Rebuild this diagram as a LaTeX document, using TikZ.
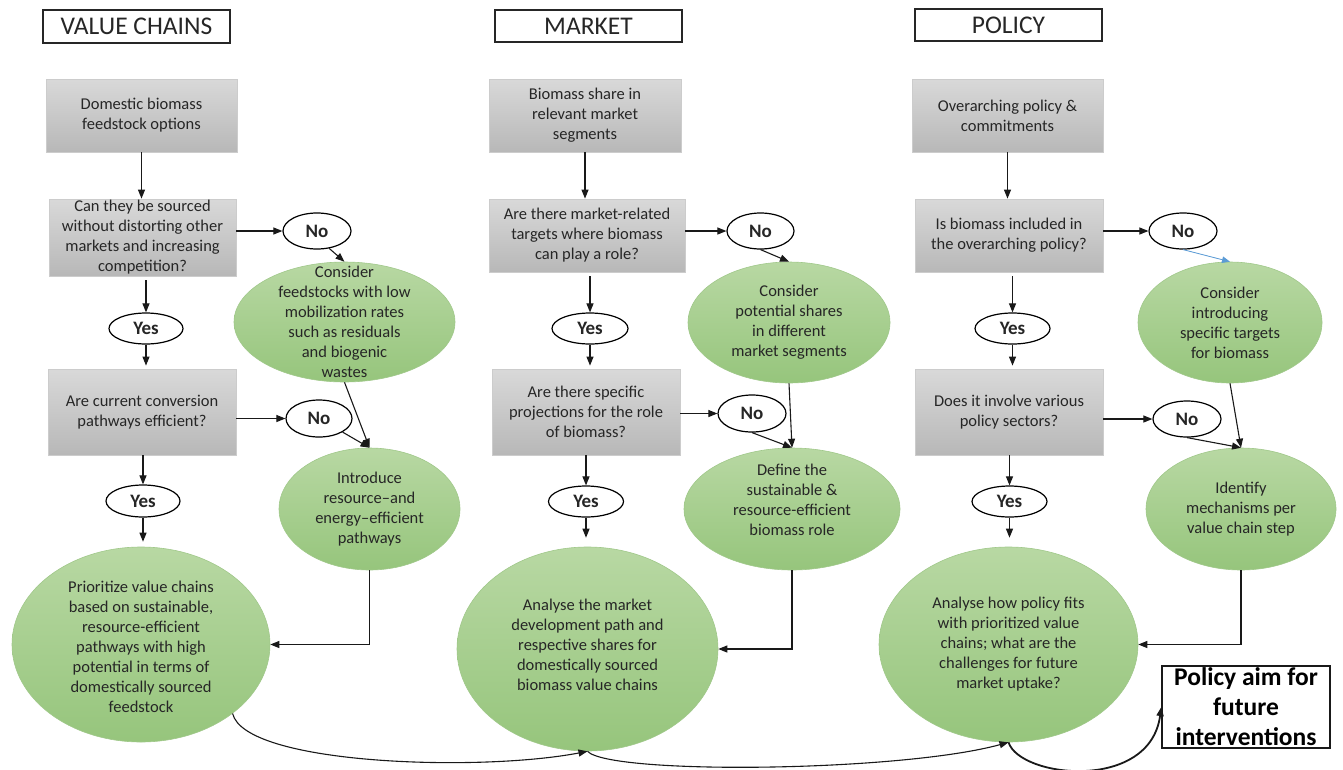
\documentclass[tikz,border=0pt]{standalone}
\usepackage{fontspec}
\setmainfont{Carlito}
\usetikzlibrary{shapes.geometric,arrows.meta}
\definecolor{gtop}{RGB}{184,216,163}
\definecolor{gbot}{RGB}{150,197,124}
\definecolor{gline}{RGB}{160,200,138}
\definecolor{bluearr}{RGB}{91,155,213}
\definecolor{txt}{RGB}{38,38,38}
\tikzset{
  titlebox/.style={draw=black!85,line width=1.5pt,inner sep=0pt,font=\fontsize{25.5}{29}\selectfont,text=txt},
  gbox/.style={rectangle,draw=black!20,line width=0.8pt,top color=black!15,bottom color=black!28,inner sep=0pt,align=center,font=\fontsize{16.5}{20}\selectfont,text=txt},
  gell/.style={ellipse,draw=gline,line width=0.6pt,top color=gtop,bottom color=gbot,inner sep=0pt},
  lbl/.style={align=center,font=\fontsize{16.5}{20}\selectfont,text=txt,inner sep=0pt},
  yn/.style={ellipse,draw=black,line width=1.2pt,fill=white,inner sep=0pt,font=\bfseries\fontsize{19}{22}\selectfont,text=txt},
  arr/.style={-{Triangle[length=9pt,width=7pt]},line width=1.1pt,draw=black!90},
  barr/.style={-{Triangle[length=8pt,width=6.5pt]},line width=0.8pt,draw=bluearr,fill=bluearr},
  aimbox/.style={draw=black!90,line width=1.5pt,inner sep=0pt,align=center,font=\bfseries\fontsize{25.5}{30}\selectfont,text=black}
}
\begin{document}
\begin{tikzpicture}[x=1pt,y=-1pt]
\useasboundingbox (0,0) rectangle (1343,769);
% titles
\node[titlebox,minimum width=187pt,minimum height=33pt] (t1) at (136.5,26.5) {VALUE CHAINS};
\node[titlebox,minimum width=187pt,minimum height=32pt] (t2) at (588.5,26) {MARKET};
\node[titlebox,minimum width=187pt,minimum height=32pt] (t3) at (1008.5,25) {POLICY};
% column 1
\node[gbox,minimum width=191pt,minimum height=73pt] (b1) at (141.5,115.5) {Domestic biomass\\feedstock options};
\node[gbox,minimum width=187pt,minimum height=77pt] (b2) at (142.5,237.5) {Can they be sourced\\without distorting other\\markets and increasing\\competition?};
\node[gbox,minimum width=188pt,minimum height=86pt] (b3) at (142,412) {Are current conversion\\pathways efficient?};
\node[yn,minimum width=68pt,minimum height=36pt] (no1) at (317,231) {No};
\node[gell,minimum width=221pt,minimum height=120pt,label={[lbl]center:{Consider\\feedstocks with low\\mobilization rates\\such as residuals\\and biogenic\\wastes}}] (cf) at (344.5,322) {};
\node[yn,minimum width=74pt,minimum height=31pt] (yes1) at (146,328.5) {Yes};
\node[yn,minimum width=66pt,minimum height=37pt] (no2) at (319,418.5) {No};
\node[gell,minimum width=181pt,minimum height=122pt,label={[lbl]center:{Introduce\\resource--and\\energy--efficient\\pathways}}] (intro) at (369.5,509) {};
\node[yn,minimum width=74pt,minimum height=32pt] (yes2) at (143,501) {Yes};
\node[gell,minimum width=258pt,minimum height=195pt,label={[lbl,yshift=-2pt]center:{Prioritize value chains\\based on sustainable,\\resource-efficient\\pathways with high\\potential in terms of\\domestically sourced\\feedstock}}] (prio) at (141,644.5) {};
% column 2
\node[gbox,minimum width=192pt,minimum height=73pt] (m1) at (585,115.5) {Biomass share in\\relevant market\\segments};
\node[gbox,minimum width=196pt,minimum height=73pt] (m2) at (587,235.5) {Are there market-related\\targets where biomass\\can play a role?};
\node[gbox,minimum width=188pt,minimum height=86pt] (m3) at (586,412) {Are there specific\\projections for the role\\of biomass?};
\node[yn,minimum width=67pt,minimum height=36pt] (nm1) at (760.5,231) {No};
\node[gell,minimum width=202pt,minimum height=121pt,label={[lbl]center:{Consider\\potential shares\\in different\\market segments}}] (cm) at (789,322.5) {};
\node[yn,minimum width=76pt,minimum height=31pt] (ym1) at (590,328.5) {Yes};
\node[yn,minimum width=68pt,minimum height=37pt] (nm2) at (752,413.5) {No};
\node[gell,minimum width=216pt,minimum height=122pt,label={[lbl,yshift=9pt]center:{Define the\\sustainable \&\\resource-efficient\\biomass role}}] (def) at (792,509) {};
\node[yn,minimum width=75pt,minimum height=31pt] (ym2) at (586,501.5) {Yes};
\node[gell,minimum width=261pt,minimum height=204pt,label={[lbl,yshift=4pt]center:{Analyse the market\\development path and\\respective shares for\\domestically sourced\\biomass value chains}}] (mka) at (587.5,649) {};
% column 3
\node[gbox,minimum width=191pt,minimum height=73pt] (p1) at (1007.5,115.5) {Overarching policy \&\\commitments};
\node[gbox,minimum width=188pt,minimum height=73pt] (p2) at (1009,235.5) {Is biomass included in\\the overarching policy?};
\node[gbox,minimum width=188pt,minimum height=86pt] (p3) at (1009,412) {Does it involve various\\policy sectors?};
\node[yn,minimum width=68pt,minimum height=36pt] (np1) at (1183,231) {No};
\node[gell,minimum width=184pt,minimum height=121pt,label={[lbl]center:{Consider\\introducing\\specific targets\\for biomass}}] (cp) at (1230,322.5) {};
\node[yn,minimum width=75pt,minimum height=31pt] (yp1) at (1012.5,328.5) {Yes};
\node[yn,minimum width=68pt,minimum height=36pt] (np2) at (1187,419) {No};
\node[gell,minimum width=190pt,minimum height=122pt,label={[lbl]center:{Identify\\mechanisms per\\value chain step}}] (idf) at (1241,509) {};
\node[yn,minimum width=75pt,minimum height=31pt] (yp2) at (1009.5,501.5) {Yes};
\node[gell,minimum width=259pt,minimum height=195pt,label={[lbl]center:{Analyse how policy fits\\with prioritized value\\chains; what are the\\challenges for future\\market uptake?}}] (pol) at (1008.5,644.5) {};
\node[aimbox,minimum width=168pt,minimum height=82pt] (aim) at (1246,707) {Policy aim for\\future\\interventions};
% connectors column 1
\draw[arr] (b1.south) -- (b1.south |- b2.north);
\draw[arr] (b2.east |- no1.west) -- (no1.west);
\draw[arr] (no1.-55) -- (cf.north);
\draw[arr] ([yshift=-4pt]yes1.north |- b2.south) -- (yes1.north);
\draw[arr] (yes1.south) -- ([yshift=3pt]yes1.south |- b3.north);
\draw[arr] (b3.east |- no2.west) -- (no2.west);
\draw[arr] (no2.-30) -- (intro.north);
\draw[arr] (cf.south) -- (intro.north);
\draw[arr] (yes2.north |- b3.south) -- (yes2.north);
\draw[arr] (yes2.south) -- ([yshift=5pt]yes2.south |- prio.north);
\draw[arr] (intro.south) |- (prio.east);
% connectors column 2
\draw[arr] (m1.south) -- (m1.south |- m2.north);
\draw[arr] (m2.east |- nm1.west) -- (nm1.west);
\draw[arr] (nm1.south) -- (cm.north);
\draw[arr] ([yshift=-4pt]ym1.north |- m2.south) -- (ym1.north);
\draw[arr] (ym1.south) -- ([yshift=3pt]ym1.south |- m3.north);
\draw[arr] (m3.east |- nm2.west) -- (nm2.west);
\draw[arr] (nm2.south) -- (def.north);
\draw[arr] (cm.south) -- (def.north);
\draw[arr] (ym2.north |- m3.south) -- (ym2.north);
\draw[arr] (ym2.south) -- ([yshift=9pt]ym2.south |- mka.north);
\draw[arr] (def.south) |- (mka.east);
% connectors column 3
\draw[arr] (p1.south) -- (p1.south |- p2.north);
\draw[arr] (p2.east |- np1.west) -- (np1.west);
\draw[barr] (np1.south) -- (cp.north);
\draw[arr] ([yshift=-4pt]yp1.north |- p2.south) -- (yp1.north);
\draw[arr] (yp1.south) -- ([yshift=3pt]yp1.south |- p3.north);
\draw[arr] (p3.east |- np2.west) -- (np2.west);
\draw[arr] (np2.south) -- (idf.north);
\draw[arr] (cp.south) -- (idf.north);
\draw[arr] (yp2.north |- p3.south) -- (yp2.north);
\draw[arr] (yp2.south) -- ([yshift=9pt]yp2.south |- pol.north);
\draw[arr] (idf.south) |- (pol.east);
% bottom curves
\draw[arr] (prio.-37) .. controls (245,765) and (480,772) .. (mka.south);
\draw[arr] (mka.south) .. controls (610,775) and (900,772) .. (pol.south);
\draw[arr,line width=1.8pt] (pol.south) .. controls (1020,778) and (1150,792) .. (aim.west);
\end{tikzpicture}
\end{document}
